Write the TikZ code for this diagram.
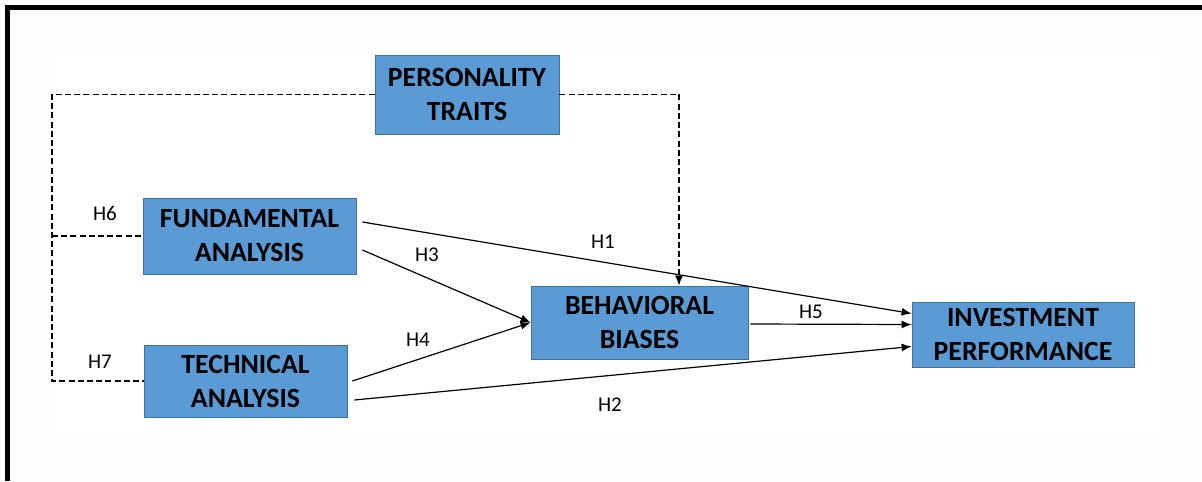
\documentclass[tikz,border=0pt]{standalone}
\usepackage{fontspec}
\setmainfont{Carlito}
\usetikzlibrary{positioning, arrows.meta}

\definecolor{boxblue}{HTML}{5B9BD5}
\definecolor{boxedge}{HTML}{41719C}

\begin{document}
\begin{tikzpicture}[
    x=0.5pt, y=-0.5pt,
    varbox/.style={
        draw=boxedge,
        line width=0.4pt,
        fill=boxblue,
        align=center,
        inner sep=0pt,
        font=\bfseries\fontsize{13.9}{17}\selectfont
    },
    hyp/.style={font=\fontsize{10.5}{12}\selectfont, inner sep=0pt},
    path/.style={line width=0.6pt, -{Latex[length=5pt, width=4pt]}},
    moderator/.style={line width=0.6pt, dash pattern=on 3pt off 1.6pt}
]
    % page frame and faint background
    \useasboundingbox (0,0) rectangle (1202,481);
    \fill[gray!1.5] (10,10) rectangle (1202,481);
    \fill[white] (53,53) rectangle (1162,437);
    \draw[line width=2.6pt] (7.5,481) -- (7.5,7.5) -- (1202,7.5);

    % constructs
    \node[varbox, minimum width=92pt, minimum height=39.5pt] (pt) at (467,94.5) {PERSONALITY\\TRAITS};
    \node[varbox, minimum width=106.5pt, minimum height=38pt] (fa) at (249.5,236) {FUNDAMENTAL\\ANALYSIS};
    \node[varbox, minimum width=101.5pt, minimum height=36pt] (ta) at (245.5,381) {TECHNICAL\\ANALYSIS};
    \node[varbox, minimum width=108.5pt, minimum height=36.5pt] (bb) at (639.5,322.5) {BEHAVIORAL\\BIASES};
    \node[varbox, minimum width=111pt, minimum height=32.5pt] (ip) at (1023,334.5) {INVESTMENT\\PERFORMANCE};

    % moderating links (dashed)
    \coordinate (lft) at (52,0);
    \coordinate (rgt) at (679,0);
    \draw[moderator] (pt.west) -| (lft |- ta.west) -- (ta.west);
    \draw[moderator] (lft |- fa.west) -- (fa.west);
    \draw[moderator, -{Latex[length=5pt, width=4pt]}] (pt.east) -| (rgt |- bb.north);

    % direct and mediated paths
    \draw[path] ([xshift=3pt, yshift=7pt]fa.east) -- ([yshift=10.5pt]ip.west);
    \draw[path] ([xshift=3pt, yshift=-7pt]fa.east) -- (bb.west);
    \draw[path] ([xshift=2.5pt]ta.east) -- (bb.west);
    \draw[path] ([xshift=3.5pt, yshift=-9.5pt]ta.east) -- ([yshift=-6pt]ip.west);
    \draw[path] ([xshift=1pt, yshift=-0.75pt]bb.east) -- ([yshift=5pt]ip.west);

    % hypothesis labels
    \node[hyp] (h1) at (603,242) {H1};
    \node[hyp] (h2) at (610,405) {H2};
    \node[hyp] (h3) at (427,255) {H3};
    \node[hyp] (h4) at (418,340) {H4};
    \node[hyp] (h5) at (811,312) {H5};
    \node[hyp] (h6) at (105,213) {H6};
    \node[hyp] (h7) at (100,362) {H7};
\end{tikzpicture}
\end{document}
